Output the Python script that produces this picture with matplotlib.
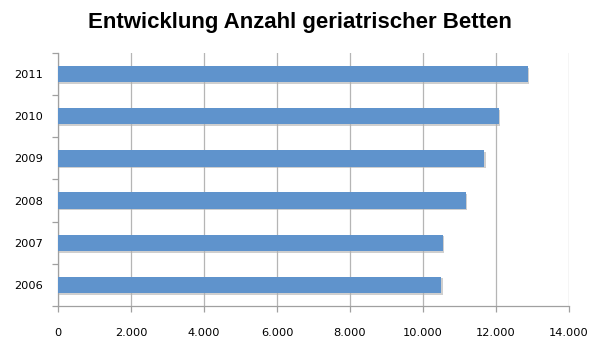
import matplotlib
matplotlib.use("Agg")
import matplotlib.pyplot as plt
import matplotlib.patheffects as pe
from matplotlib.ticker import FuncFormatter, FixedLocator
import numpy as np

years = ["2006", "2007", "2008", "2009", "2010", "2011"]
betten = [10500, 10550, 11180, 11680, 12070, 12870]
xticks = [0, 2000, 4000, 6000, 8000, 10000, 12000, 14000]
title = "Entwicklung Anzahl geriatrischer Betten"

fig = plt.figure(figsize=(6, 3.48), dpi=100)
ax = fig.add_axes([0.0967, 0.1207, 0.8516, 0.727])

y = np.arange(len(years))
bars = ax.barh(y, betten, height=0.39, color="#5f93cc", zorder=3)
for b in bars:
    b.set_path_effects([pe.SimplePatchShadow(offset=(1, -1.2), shadow_rgbFace="#b0b0b0", alpha=0.6), pe.Normal()])

ax.set_xlim(0, 14000)
ax.set_ylim(-0.5, len(years) - 0.5)
ax.set_xticks(xticks)
ax.xaxis.set_major_formatter(FuncFormatter(lambda v, p: f"{int(v):,}".replace(",", ".")))
ax.set_yticks(y)
ax.set_yticklabels(years)
ax.yaxis.set_minor_locator(FixedLocator(np.arange(-0.5, len(years), 1.0)))

ax.grid(axis="x", color="#b5b5b5", linewidth=0.9, zorder=0)
for s in ["top", "right"]:
    ax.spines[s].set_visible(False)
for s in ["left", "bottom"]:
    ax.spines[s].set_color("#a0a0a0")
    ax.spines[s].set_linewidth(0.9)

ax.tick_params(axis="x", length=4, width=0.9, color="#a0a0a0", pad=12, labelsize=8.2)
ax.tick_params(axis="y", which="major", length=0, pad=11, labelsize=8.2)
ax.tick_params(axis="y", which="minor", length=4, width=0.9, color="#a0a0a0")

fig.text(0.5, 0.935, title, ha="center", va="center", fontsize=16,
         fontweight="bold", family=["Liberation Sans", "DejaVu Sans"])

fig.savefig("out.png", dpi=100)
